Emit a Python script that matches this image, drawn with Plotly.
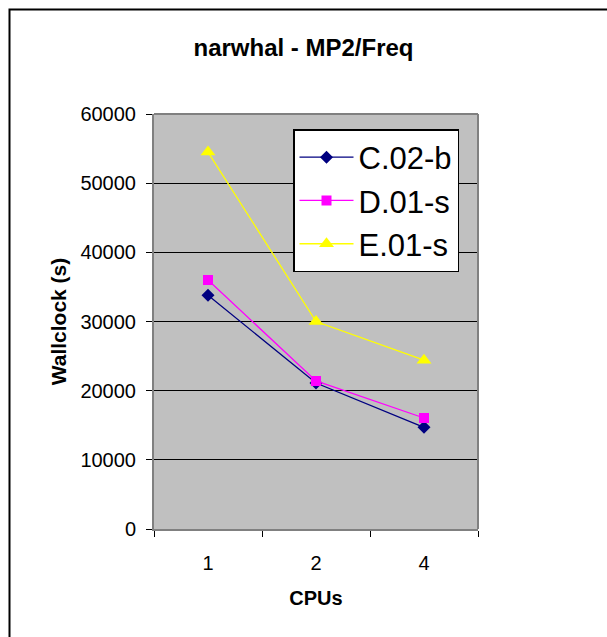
import plotly.graph_objects as go

# Wallclock timings (seconds) per CPU count
cpus = ["1", "2", "4"]
c02b = [33800, 21100, 14700]
d01s = [36000, 21400, 16050]
e01s = [54500, 30000, 24400]

series = [
    ("C.02-b", c02b, "#000080", "diamond", 10),
    ("D.01-s", d01s, "#FF00FF", "square", 10),
    ("E.01-s", e01s, "#FFFF00", "triangle-up", 13),
]

W, H = 607, 637
L, R, T, B = 154, 129, 114, 108
pw, ph = W - L - R, H - T - B

fig = go.Figure()
for name, vals, col, sym, sz in series:
    fig.add_trace(go.Scatter(
        x=cpus, y=vals, name=name, mode="lines+markers",
        line=dict(color=col, width=1.3),
        marker=dict(symbol=sym, size=sz, color=col),
    ))

def px_x(p):
    return (p - L) / pw

def px_y(p):
    return (H - B - p) / ph

FONT = "Arial, Liberation Sans, sans-serif"

fig.update_layout(
    width=W, height=H,
    margin=dict(l=L, r=R, t=T, b=B),
    paper_bgcolor="white",
    plot_bgcolor="#C0C0C0",
    font=dict(family=FONT, color="black"),
    title=dict(text="<b>narwhal - MP2/Freq</b>", x=0.5, xanchor="center",
               y=1 - 48 / H, yanchor="middle", font=dict(size=24)),
    xaxis=dict(
        type="category", range=[-0.5, 2.5], tickson="boundaries",
        ticks="outside", ticklen=6, tickcolor="black",
        showline=True, linecolor="#808080", linewidth=2,
        showgrid=False, tickfont=dict(size=20), ticklabelstandoff=15,
        title=dict(text="<b>CPUs</b>", font=dict(size=20), standoff=18),
    ),
    yaxis=dict(
        range=[0, 60000], dtick=10000, ticks="outside", ticklen=6,
        tickcolor="black", showline=True, linecolor="#808080", linewidth=2,
        showgrid=True, gridcolor="black", gridwidth=1, zeroline=False,
        tickfont=dict(size=20), tickformat="d", ticklabelstandoff=6,
        title=dict(text="<b>Wallclock (s)</b>", font=dict(size=21), standoff=8),
    ),
    legend=dict(
        x=px_x(293), y=px_y(129), xanchor="left", yanchor="top",
        bgcolor="white", bordercolor="black", borderwidth=1.5,
        font=dict(size=31), itemwidth=54,
    ),
    showlegend=True,
    shapes=[
        # plot-area frame on the right and top
        dict(type="line", xref="paper", yref="paper", x0=1, x1=1, y0=0, y1=1,
             line=dict(color="#808080", width=2)),
        dict(type="line", xref="paper", yref="paper", x0=0, x1=1, y0=1, y1=1,
             line=dict(color="#808080", width=2)),
        # outer chart border
        dict(type="rect", xref="paper", yref="paper",
             x0=px_x(9.5), x1=px_x(640), y0=px_y(9.5), y1=px_y(670),
             line=dict(color="black", width=2), layer="below"),
    ],
)

fig.write_html("out.html")
